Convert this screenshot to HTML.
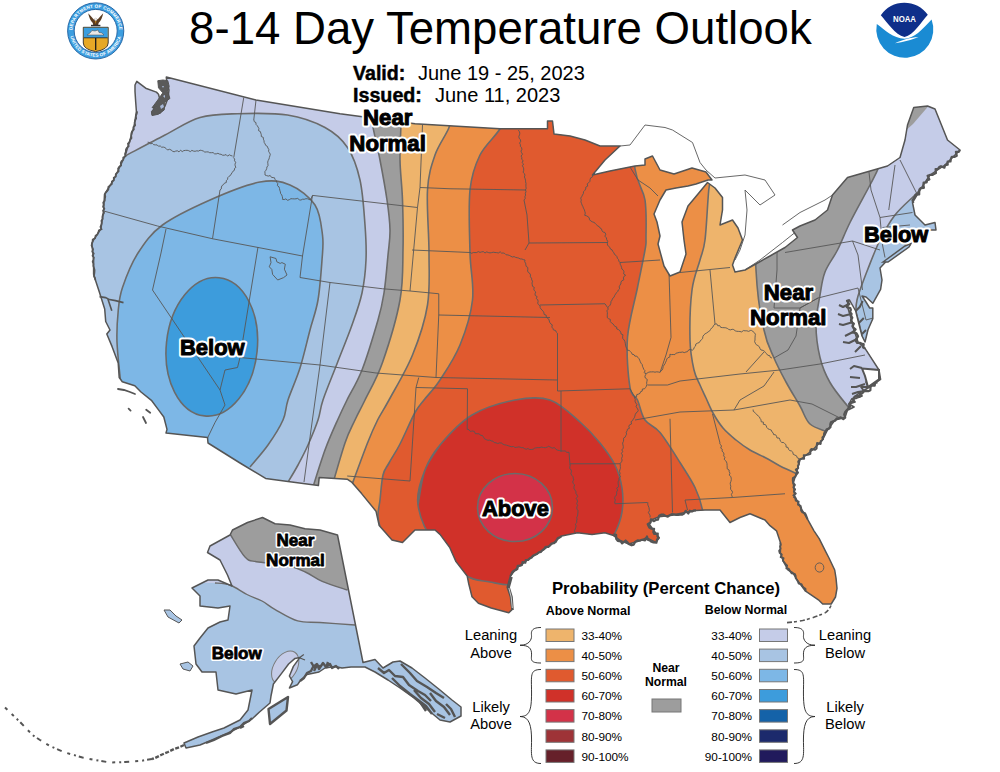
<!DOCTYPE html>
<html><head><meta charset="utf-8"><style>
html,body{margin:0;padding:0;background:#fff;}
svg{display:block;font-family:"Liberation Sans",sans-serif;}
</style></head><body>
<svg width="1000" height="772" viewBox="0 0 1000 772">
<rect width="1000" height="772" fill="#fff"/>
<clipPath id="us"><polygon points="136.8,81.4 135,85 135,91.4 135.7,102 136.4,111.3 134.3,125 130,140 125,156 113.5,180 104.5,194.5 103.6,210.8 100.9,228.9 93.6,239.8 91.8,243.4 93.6,259.7 93.6,274.2 95.4,280 99.5,292.4 104.7,309 105.7,321.5 110,330 106.8,334 112,346.4 118.2,363 119.2,377.5 122.3,381.7 134.8,385.8 141,392 151.4,400.3 157.6,408.6 163.8,417 167,429.4 166,433 207.5,437.5 208,443 240,463 265.6,478.4 288,481.6 318.4,485.6 319.2,477.6 347.2,479.2 352,482.4 361.6,493.6 376,511.2 379.2,525.6 392,540 402.5,542.5 415,530 435,530 440,534.4 449.6,547.2 456,561.6 467.2,576 468.8,584 472,596.8 478.4,603.2 491.2,608 508.8,612.8 512,609.6 510.4,596.8 507.2,587.2 510.4,576 516.8,568 529.6,558.4 542.4,550.4 552,544 561.6,536 577.6,532.8 592,534.4 604.8,532.8 612.8,535.2 620.8,540.8 628.8,544 640,540.8 646.4,537.6 656,542.4 659.2,537.6 654.4,531.2 649.6,524.8 651.2,520 659.2,516.8 672,515.2 680,513.6 696,510.4 705,510 720,510 730,522.5 740,517.5 750,513.75 765,520 770,525.7 776.5,530.8 780.4,542.5 780.4,552.8 783,560.6 788,570 792.8,572.7 797,579.8 805.6,591.2 818.4,599.8 822.7,604 831.2,604 835.5,597 837,588.4 836,578 834.7,570 829,558 825.7,551.6 819.2,538.6 814,530.8 807.5,519.2 799.8,506.2 794.6,495.9 793.3,483 797.2,470 800,460 812.5,450 822.5,440 827.5,430 835,420 845,417.5 847.5,410 851,400 858.8,393.4 869.7,387 880.6,379.4 879,370 871,357.6 865,348.3 858,342 854,330 851,318 847,305 849.5,300 855.7,311 858.8,323.5 862,336 865,342 868,329.7 872.8,318.8 872.8,308 869.7,308 866,302 862,296 866,297 872.8,303.3 880.6,289.3 882,280 880,268 887.5,260 910,245 900,242.5 910,235 922.5,230 936,230 935,222.5 925,225 915,215 912.5,202.5 920,190 930,175 945,165 960,150 947.5,140 935,109 927.5,106 913.75,107.5 907.5,125 905,140 900,157.5 887.5,166 847.5,177.5 832.5,195 827.5,210 815,220 800,226 792.5,230 797.5,237.5 785,247.5 770,256 757.5,263 745,270 735,272 732.5,265 735,258 742.5,240 738,228 732.5,220 720,225 722.5,210 722.5,197.5 715,188 707.5,182.5 698,194 688,206 682,222 684,240 686,254 680,272 670,276 664,266 658,244 660,236 657,222 654,214 660,200 666,190 676,188 688,186 696,184 708,180 712,180 706,172 692,168 674,174 660,170 652.5,156 645,159 645,165 635,166 620,169 610,171 592.5,175 605,160 620,146 600,146 585,140 570,136 554,134 552.5,121 547.5,121 547.5,128.75 500,128.75 415,123.75 340,113.75 256,100 166.3,77.1 167,84 169,90 168,98 165,106 160,113 152,114 154,108 160,100 158.5,94.2 156.4,92.1 145.7,88.2"/></clipPath>

<g clip-path="url(#us)">
<rect x="0" y="0" width="1000" height="772" fill="#c5cce8"/><path d="M125,156 C131.7,152.5 152.5,141.4 165,135 C177.5,128.6 187.9,121.0 200,117.5 C212.1,114.0 222.9,114.2 237.5,113.75 C252.1,113.3 272.9,112.7 287.5,115 C302.1,117.3 315.0,122.1 325,127.5 C335.0,132.9 341.7,138.8 347.5,147.5 C353.3,156.2 357.1,167.1 360,180 C362.9,192.9 364.0,211.7 365,225 C366.0,238.3 366.5,248.7 366,260 C365.5,271.3 364.3,282.2 362,293 C359.7,303.8 356.1,313.4 352,325 C347.9,336.6 342.3,350.0 337.5,362.5 C332.7,375.0 326.2,390.4 323,400 C319.8,409.6 320.5,412.5 318,420 C315.5,427.5 311.3,437.5 308,445 C304.7,452.5 301.3,458.8 298,465 C294.7,471.2 289.7,479.2 288,482 L288,520 L0,520 L0,156Z" fill="#a8c4e3"/><path d="M120.5,381 C119.9,374.5 117.4,353.7 117,342 C116.6,330.3 117.3,320.1 118.2,311 C119.1,301.9 119.2,297.2 122.5,287.5 C125.8,277.8 131.3,263.4 138,253 C144.7,242.6 150.5,233.8 162.5,225 C174.5,216.2 193.8,207.2 210,200 C226.2,192.8 246.7,184.5 260,182 C273.3,179.5 280.8,181.2 290,185 C299.2,188.8 309.6,196.7 315,205 C320.4,213.3 321.3,225.8 322.5,235 C323.7,244.2 322.8,249.2 322,260 C321.2,270.8 320.0,288.3 318,300 C316.0,311.7 313.0,318.7 310,330 C307.0,341.3 303.7,356.3 300,368 C296.3,379.7 290.8,391.3 288,400 C285.2,408.7 286.3,412.5 283,420 C279.7,427.5 273.5,437.2 268,445 C262.5,452.8 253.0,463.3 250,467 L250,520 L0,520 L0,375Z" fill="#7db7e6"/><ellipse cx="211.8" cy="346.8" rx="45.5" ry="69.5" transform="rotate(6 211.8 346.8)" fill="#3d9cdc"/><path d="M372,110 C372.0,112.0 370.7,113.7 372,122 C373.3,130.3 377.5,147.0 380,160 C382.5,173.0 385.3,188.3 387,200 C388.7,211.7 389.8,220.8 390,230 C390.2,239.2 389.0,244.5 388,255 C387.0,265.5 385.7,282.2 384,293 C382.3,303.8 381.7,307.2 378,320 C374.3,332.8 367.2,356.7 362,370 C356.8,383.3 351.1,391.7 347,400 C342.9,408.3 341.3,411.7 337.6,420 C333.9,428.3 329.3,438.3 325,450 C320.7,461.7 314.2,483.3 312,490 L312,772 L1000,772 L1000,110Z" fill="#9d9d9d"/><path d="M401,110 C401.0,112.3 401.2,115.7 401,124 C400.8,132.3 399.8,147.3 400,160 C400.2,172.7 402.0,185.0 402.5,200 C403.0,215.0 403.4,233.3 403,250 C402.6,266.7 403.4,281.2 400,300 C396.6,318.8 388.3,345.8 382.5,362.5 C376.7,379.2 369.6,390.4 365,400 C360.4,409.6 358.3,412.8 355,420 C351.7,427.2 349.0,431.3 345,443 C341.0,454.7 333.3,482.2 331,490 L331,772 L1000,772 L1000,110Z" fill="#eeb46c"/><path d="M452,110 C451.5,112.9 451.8,120.0 449,127.5 C446.2,135.0 438.6,144.6 435,155 C431.4,165.4 428.5,173.7 427.5,190 C426.5,206.3 429.0,233.8 429,253 C429.0,272.2 430.2,288.0 427.5,305 C424.8,322.0 418.9,339.2 412.5,355 C406.1,370.8 394.8,389.2 389,400 C383.2,410.8 381.2,412.8 377.6,420 C374.0,427.2 372.1,431.3 367.5,443 C362.9,454.7 352.9,482.2 350,490 L350,772 L1000,772 L1000,110Z" fill="#ec8f46"/><path d="M505,110 C504.2,113.1 504.2,121.2 500,128.75 C495.8,136.2 485.0,144.8 480,155 C475.0,165.2 471.7,173.7 470,190 C468.3,206.3 469.6,234.7 470,253 C470.4,271.3 474.2,284.7 472.5,300 C470.8,315.3 465.4,331.7 460,345 C454.6,358.3 446.0,370.8 440,380 C434.0,389.2 428.2,394.6 424,400 C419.8,405.4 419.0,405.2 415,412.5 C411.0,419.8 404.3,435.6 400,444 C395.7,452.4 391.8,457.8 389,463 C386.2,468.2 384.5,468.8 383,475 C381.5,481.2 380.8,493.2 380,500 C379.2,506.8 377.8,510.7 378,516 C378.2,521.3 379.8,524.7 381,532 C382.2,539.3 384.3,555.3 385,560 L385,650 L705,650 L705,540 C704.6,535.0 704.2,518.8 702.5,510 C700.8,501.2 698.8,495.4 695,487.5 C691.2,479.6 685.8,471.7 680,462.5 C674.2,453.3 665.8,439.6 660,432.5 C654.2,425.4 648.8,425.4 645,420 C641.2,414.6 640.0,405.4 637.5,400 C635.0,394.6 631.7,397.9 630,387.5 C628.3,377.1 626.2,354.2 627.5,337.5 C628.8,320.8 634.6,302.1 637.5,287.5 C640.4,272.9 643.6,258.3 645,250 C646.4,241.7 646.0,245.8 646,237.5 C646.0,229.2 646.8,211.5 645,200 C643.2,188.5 637.5,185.4 635,168.75 C632.5,152.1 630.8,111.5 630,100 Z" fill="#e05a2f"/><path d="M715,100 C714.5,111.7 713.0,155.0 712,170 C711.0,185.0 709.9,178.3 708.75,190 C707.6,201.7 706.5,228.3 705,240 C703.5,251.7 702.2,251.7 700,260 C697.8,268.3 693.7,276.7 692,290 C690.3,303.3 689.7,326.7 690,340 C690.3,353.3 692.3,362.5 694,370 C695.7,377.5 698.0,380.3 700,385 C702.0,389.7 703.8,393.3 706,398 C708.2,402.7 710.2,408.0 713,413 C715.8,418.0 719.2,423.5 723,428 C726.8,432.5 731.5,436.3 736,440 C740.5,443.7 745.0,447.0 750,450 C755.0,453.0 761.0,455.3 766,458 C771.0,460.7 775.2,463.5 780,466 C784.8,468.5 786.7,469.0 795,473 C803.3,477.0 824.2,487.2 830,490 L1000,400 L1000,100Z" fill="#eeb46c"/><path d="M752,100 C752.7,128.3 754.0,231.7 756,270 C758.0,308.3 761.0,315.3 764,330 C767.0,344.7 770.3,349.3 774,358 C777.7,366.7 781.7,374.0 786,382 C790.3,390.0 796.0,399.0 800,406 C804.0,413.0 805.3,419.7 810,424 C814.7,428.3 821.3,429.3 828,432 C834.7,434.7 846.3,438.7 850,440 L1000,440 L1000,100Z" fill="#9d9d9d"/><path d="M895,100 C892.5,110.0 882.9,148.3 880,160 C877.1,171.7 879.2,165.8 877.5,170 C875.8,174.2 874.6,176.2 870,185 C865.4,193.8 855.4,211.7 850,222.5 C844.6,233.3 841.7,241.8 837.5,250 C833.3,258.2 827.9,264.5 825,272 C822.1,279.5 821.5,286.2 820,295 C818.5,303.8 816.0,314.6 816,325 C816.0,335.4 817.7,347.9 820,357.5 C822.3,367.1 825.4,374.4 830,382.5 C834.6,390.6 842.5,399.8 847.5,406 C852.5,412.2 857.9,417.7 860,420 L1000,420 L1000,100Z" fill="#c5cce8"/><path d="M920,190 C919.2,190.8 919.2,190.8 915,195 C910.8,199.2 900.8,207.5 895,215 C889.2,222.5 884.6,230.8 880,240 C875.4,249.2 870.8,261.7 867.5,270 C864.2,278.3 861.8,285.0 860,290 C858.2,295.0 857.7,296.5 857,300 C856.3,303.5 855.7,307.2 856,311 C856.3,314.8 858.0,318.8 859,323 C860.0,327.2 861.0,332.3 862,336 C863.0,339.7 863.3,341.7 865,345 C866.7,348.3 868.7,353.5 872,356 C875.3,358.5 882.8,359.3 885,360 L1000,360 L1000,190Z" fill="#a8c4e3"/><polygon points="904,132 912,104 932,102 913,124" fill="#9d9d9d" /><path d="M418,505 C419.2,499.2 421.3,480.0 425,470 C428.7,460.0 432.2,454.2 440,445 C447.8,435.8 459.5,422.5 472,415 C484.5,407.5 502.0,402.5 515,400 C528.0,397.5 539.2,396.3 550,400 C560.8,403.7 571.7,414.8 580,422 C588.3,429.2 594.2,435.8 600,443 C605.8,450.2 611.3,457.5 615,465 C618.7,472.5 620.8,480.2 622,488 C623.2,495.8 623.2,504.5 622,512 C620.8,519.5 618.7,525.3 615,533 C611.3,540.7 609.2,551.0 600,558 C590.8,565.0 573.3,570.5 560,575 C546.7,579.5 531.7,583.8 520,585 C508.3,586.2 499.2,583.7 490,582 C480.8,580.3 474.2,581.2 465,575 C455.8,568.8 442.8,556.7 435,545 C427.2,533.3 419.7,517.5 418,505 C416.3,492.5 421.3,480.0 425,470 C428.7,460.0 437.5,449.2 440,445" fill="#d03129"/><ellipse cx="515" cy="507.5" rx="37.5" ry="34" fill="#d33248"/>
<path d="M125,156 C131.7,152.5 152.5,141.4 165,135 C177.5,128.6 187.9,121.0 200,117.5 C212.1,114.0 222.9,114.2 237.5,113.75 C252.1,113.3 272.9,112.7 287.5,115 C302.1,117.3 315.0,122.1 325,127.5 C335.0,132.9 341.7,138.8 347.5,147.5 C353.3,156.2 357.1,167.1 360,180 C362.9,192.9 364.0,211.7 365,225 C366.0,238.3 366.5,248.7 366,260 C365.5,271.3 364.3,282.2 362,293 C359.7,303.8 356.1,313.4 352,325 C347.9,336.6 342.3,350.0 337.5,362.5 C332.7,375.0 326.2,390.4 323,400 C319.8,409.6 320.5,412.5 318,420 C315.5,427.5 311.3,437.5 308,445 C304.7,452.5 301.3,458.8 298,465 C294.7,471.2 289.7,479.2 288,482" stroke="#6b6b6b" stroke-width="1.6" fill="none"/><path d="M120.5,381 C119.9,374.5 117.4,353.7 117,342 C116.6,330.3 117.3,320.1 118.2,311 C119.1,301.9 119.2,297.2 122.5,287.5 C125.8,277.8 131.3,263.4 138,253 C144.7,242.6 150.5,233.8 162.5,225 C174.5,216.2 193.8,207.2 210,200 C226.2,192.8 246.7,184.5 260,182 C273.3,179.5 280.8,181.2 290,185 C299.2,188.8 309.6,196.7 315,205 C320.4,213.3 321.3,225.8 322.5,235 C323.7,244.2 322.8,249.2 322,260 C321.2,270.8 320.0,288.3 318,300 C316.0,311.7 313.0,318.7 310,330 C307.0,341.3 303.7,356.3 300,368 C296.3,379.7 290.8,391.3 288,400 C285.2,408.7 286.3,412.5 283,420 C279.7,427.5 273.5,437.2 268,445 C262.5,452.8 253.0,463.3 250,467" stroke="#6b6b6b" stroke-width="1.6" fill="none"/><path d="M372,110 C372.0,112.0 370.7,113.7 372,122 C373.3,130.3 377.5,147.0 380,160 C382.5,173.0 385.3,188.3 387,200 C388.7,211.7 389.8,220.8 390,230 C390.2,239.2 389.0,244.5 388,255 C387.0,265.5 385.7,282.2 384,293 C382.3,303.8 381.7,307.2 378,320 C374.3,332.8 367.2,356.7 362,370 C356.8,383.3 351.1,391.7 347,400 C342.9,408.3 341.3,411.7 337.6,420 C333.9,428.3 329.3,438.3 325,450 C320.7,461.7 314.2,483.3 312,490" stroke="#6b6b6b" stroke-width="1.6" fill="none"/><path d="M401,110 C401.0,112.3 401.2,115.7 401,124 C400.8,132.3 399.8,147.3 400,160 C400.2,172.7 402.0,185.0 402.5,200 C403.0,215.0 403.4,233.3 403,250 C402.6,266.7 403.4,281.2 400,300 C396.6,318.8 388.3,345.8 382.5,362.5 C376.7,379.2 369.6,390.4 365,400 C360.4,409.6 358.3,412.8 355,420 C351.7,427.2 349.0,431.3 345,443 C341.0,454.7 333.3,482.2 331,490" stroke="#6b6b6b" stroke-width="1.6" fill="none"/><path d="M452,110 C451.5,112.9 451.8,120.0 449,127.5 C446.2,135.0 438.6,144.6 435,155 C431.4,165.4 428.5,173.7 427.5,190 C426.5,206.3 429.0,233.8 429,253 C429.0,272.2 430.2,288.0 427.5,305 C424.8,322.0 418.9,339.2 412.5,355 C406.1,370.8 394.8,389.2 389,400 C383.2,410.8 381.2,412.8 377.6,420 C374.0,427.2 372.1,431.3 367.5,443 C362.9,454.7 352.9,482.2 350,490" stroke="#6b6b6b" stroke-width="1.6" fill="none"/><path d="M505,110 C504.2,113.1 504.2,121.2 500,128.75 C495.8,136.2 485.0,144.8 480,155 C475.0,165.2 471.7,173.7 470,190 C468.3,206.3 469.6,234.7 470,253 C470.4,271.3 474.2,284.7 472.5,300 C470.8,315.3 465.4,331.7 460,345 C454.6,358.3 446.0,370.8 440,380 C434.0,389.2 428.2,394.6 424,400 C419.8,405.4 419.0,405.2 415,412.5 C411.0,419.8 404.3,435.6 400,444 C395.7,452.4 391.8,457.8 389,463 C386.2,468.2 384.5,468.8 383,475 C381.5,481.2 380.8,493.2 380,500 C379.2,506.8 377.8,510.7 378,516 C378.2,521.3 379.8,524.7 381,532 C382.2,539.3 384.3,555.3 385,560" stroke="#6b6b6b" stroke-width="1.6" fill="none"/><path d="M630,100 C630.8,111.5 632.5,152.1 635,168.75 C637.5,185.4 643.2,188.5 645,200 C646.8,211.5 646.0,229.2 646,237.5 C646.0,245.8 646.4,241.7 645,250 C643.6,258.3 640.4,272.9 637.5,287.5 C634.6,302.1 628.8,320.8 627.5,337.5 C626.2,354.2 628.3,377.1 630,387.5 C631.7,397.9 635.0,394.6 637.5,400 C640.0,405.4 641.2,414.6 645,420 C648.8,425.4 654.2,425.4 660,432.5 C665.8,439.6 674.2,453.3 680,462.5 C685.8,471.7 691.2,479.6 695,487.5 C698.8,495.4 700.8,501.2 702.5,510 C704.2,518.8 704.6,535.0 705,540" stroke="#6b6b6b" stroke-width="1.6" fill="none"/><path d="M715,100 C714.5,111.7 713.0,155.0 712,170 C711.0,185.0 709.9,178.3 708.75,190 C707.6,201.7 706.5,228.3 705,240 C703.5,251.7 702.2,251.7 700,260 C697.8,268.3 693.7,276.7 692,290 C690.3,303.3 689.7,326.7 690,340 C690.3,353.3 692.3,362.5 694,370 C695.7,377.5 698.0,380.3 700,385 C702.0,389.7 703.8,393.3 706,398 C708.2,402.7 710.2,408.0 713,413 C715.8,418.0 719.2,423.5 723,428 C726.8,432.5 731.5,436.3 736,440 C740.5,443.7 745.0,447.0 750,450 C755.0,453.0 761.0,455.3 766,458 C771.0,460.7 775.2,463.5 780,466 C784.8,468.5 786.7,469.0 795,473 C803.3,477.0 824.2,487.2 830,490" stroke="#6b6b6b" stroke-width="1.6" fill="none"/><path d="M752,100 C752.7,128.3 754.0,231.7 756,270 C758.0,308.3 761.0,315.3 764,330 C767.0,344.7 770.3,349.3 774,358 C777.7,366.7 781.7,374.0 786,382 C790.3,390.0 796.0,399.0 800,406 C804.0,413.0 805.3,419.7 810,424 C814.7,428.3 821.3,429.3 828,432 C834.7,434.7 846.3,438.7 850,440" stroke="#6b6b6b" stroke-width="1.6" fill="none"/><path d="M895,100 C892.5,110.0 882.9,148.3 880,160 C877.1,171.7 879.2,165.8 877.5,170 C875.8,174.2 874.6,176.2 870,185 C865.4,193.8 855.4,211.7 850,222.5 C844.6,233.3 841.7,241.8 837.5,250 C833.3,258.2 827.9,264.5 825,272 C822.1,279.5 821.5,286.2 820,295 C818.5,303.8 816.0,314.6 816,325 C816.0,335.4 817.7,347.9 820,357.5 C822.3,367.1 825.4,374.4 830,382.5 C834.6,390.6 842.5,399.8 847.5,406 C852.5,412.2 857.9,417.7 860,420" stroke="#6b6b6b" stroke-width="1.6" fill="none"/><path d="M920,190 C919.2,190.8 919.2,190.8 915,195 C910.8,199.2 900.8,207.5 895,215 C889.2,222.5 884.6,230.8 880,240 C875.4,249.2 870.8,261.7 867.5,270 C864.2,278.3 861.8,285.0 860,290 C858.2,295.0 857.7,296.5 857,300 C856.3,303.5 855.7,307.2 856,311 C856.3,314.8 858.0,318.8 859,323 C860.0,327.2 861.0,332.3 862,336 C863.0,339.7 863.3,341.7 865,345 C866.7,348.3 868.7,353.5 872,356 C875.3,358.5 882.8,359.3 885,360" stroke="#6b6b6b" stroke-width="1.6" fill="none"/><path d="M418,505 C419.2,499.2 421.3,480.0 425,470 C428.7,460.0 432.2,454.2 440,445 C447.8,435.8 459.5,422.5 472,415 C484.5,407.5 502.0,402.5 515,400 C528.0,397.5 539.2,396.3 550,400 C560.8,403.7 571.7,414.8 580,422 C588.3,429.2 594.2,435.8 600,443 C605.8,450.2 611.3,457.5 615,465 C618.7,472.5 620.8,480.2 622,488 C623.2,495.8 623.2,504.5 622,512 C620.8,519.5 618.7,525.3 615,533 C611.3,540.7 609.2,551.0 600,558 C590.8,565.0 573.3,570.5 560,575 C546.7,579.5 531.7,583.8 520,585 C508.3,586.2 499.2,583.7 490,582 C480.8,580.3 474.2,581.2 465,575 C455.8,568.8 442.8,556.7 435,545 C427.2,533.3 419.7,517.5 418,505 C416.3,492.5 421.3,480.0 425,470 C428.7,460.0 437.5,449.2 440,445" stroke="#6b6b6b" stroke-width="1.6" fill="none"/><ellipse cx="211.8" cy="346.8" rx="45.5" ry="69.5" transform="rotate(6 211.8 346.8)" stroke="#6b6b6b" stroke-width="1.6" fill="none"/><ellipse cx="515" cy="507.5" rx="37.5" ry="34" stroke="#6b6b6b" stroke-width="1.6" fill="none"/><polyline points="904,132 912,104" stroke="#6b6b6b" stroke-width="1.6" fill="none"/>
<path d="M147.6,142.2 L149.3,142.4 L150.5,143.8 L152.4,143.4 L153.7,144.7 L155.4,144.9 L157.1,144.9 L158.4,146.2 L160.3,146.0 L161.6,147.2 L163.4,147.1 L164.9,147.6 L166.3,148.7 L167.6,150.0 L169.6,149.3 L171.1,150.0 L172.5,151.2 L174.1,151.8 L175.7,151.1 L177.4,150.8 L179.0,151.9 L180.6,150.2 L182.2,151.6 L183.8,150.6 L185.4,150.4 L187.1,150.3 L188.7,150.7 L190.3,151.6 L191.9,150.4 L193.5,151.1 L195.1,151.3 L196.8,150.8 L198.4,151.1 L200.1,150.2 L201.7,150.5 L203.3,151.0 L204.8,152.1 L206.5,151.9 L208.2,151.9 L209.7,152.7 L211.4,152.7 L213.1,152.6 L214.5,153.8 L216.2,153.9 L217.9,153.3 L219.5,154.1 L221.1,154.3 L222.6,155.2 L224.3,155.2 L226.1,154.6 L227.5,156.1 L229.4,154.8 L230.9,155.6 L232.5,156.0" fill="none" stroke="#575757" stroke-width="0.9" stroke-linejoin="round"/><polyline points="243.75,97.5 233.75,157.5" fill="none" stroke="#575757" stroke-width="0.9" stroke-linejoin="round" /><path d="M233.3,157.6 L234.7,159.0 L234.5,160.8 L235.7,162.3 L235.0,164.2 L235.2,165.9 L235.9,167.4 L234.5,168.4 L234.4,170.3 L232.9,171.3 L232.1,172.7 L231.2,174.0 L230.4,175.5 L228.9,176.4 L227.8,177.6 L227.6,179.4 L226.3,180.6 L226.3,182.5 L224.4,183.2 L223.5,184.6 L222.1,185.5 L221.4,187.0 L221.3,188.9 L220.0,190.0" fill="none" stroke="#575757" stroke-width="0.9" stroke-linejoin="round"/><polyline points="220,190 212.5,238.75" fill="none" stroke="#575757" stroke-width="0.9" stroke-linejoin="round" /><polyline points="103.75,211 157.5,226 212.5,238.75 302.5,256" fill="none" stroke="#575757" stroke-width="0.9" stroke-linejoin="round" /><polyline points="166,229 161,253 152.5,290 220,390 225,405 215,422.5 207.5,438" fill="none" stroke="#575757" stroke-width="0.9" stroke-linejoin="round" /><polyline points="258,247 240,357.5 237.5,367.5 225,370 220,390" fill="none" stroke="#575757" stroke-width="0.9" stroke-linejoin="round" /><polyline points="240,357.5 320,365" fill="none" stroke="#575757" stroke-width="0.9" stroke-linejoin="round" /><polyline points="256,100 253.75,120" fill="none" stroke="#575757" stroke-width="0.9" stroke-linejoin="round" /><path d="M253.9,119.9 L254.2,121.6 L256.0,122.6 L256.0,124.4 L257.2,125.6 L258.1,127.1 L258.9,128.5 L258.5,130.6 L260.3,131.5 L260.8,133.1 L261.3,134.7 L261.3,136.5 L263.3,137.4 L263.4,139.2 L264.0,140.7 L264.2,142.5 L265.1,143.9 L265.7,145.4 L267.4,146.4 L267.9,148.0 L268.8,149.4 L268.6,151.3 L269.2,152.3 L270.3,154.2 L269.9,155.8 L269.4,157.4 L269.0,159.0 L268.2,160.5 L267.7,162.1 L267.9,163.8 L268.0,165.6 L266.9,167.0 L266.7,168.6 L266.0,170.2 L264.9,171.6 L265.0,173.3 L265.0,175.0 L266.6,175.6 L268.3,176.1 L270.2,175.5 L271.5,177.4 L273.2,177.6 L274.4,177.7 L275.0,179.3 L276.3,180.7 L276.8,182.3 L277.8,183.7 L277.4,185.6 L279.0,186.9 L279.5,188.5 L279.8,190.2 L280.4,191.8 L280.6,193.5 L281.7,194.9 L282.3,196.5 L282.6,198.2 L282.4,199.3 L284.2,199.6 L285.8,198.9 L287.6,200.3 L289.3,199.7 L290.9,198.7 L292.6,198.8 L294.3,198.9 L296.0,198.8 L297.7,198.4 L299.3,199.8 L300.9,200.1 L302.6,199.2 L304.2,199.3 L305.9,198.7 L307.6,198.8 L310.5,200.0" fill="none" stroke="#575757" stroke-width="0.9" stroke-linejoin="round"/><polyline points="310.5,200 312.5,195.4 302.5,256 300,277.5 330,282.5" fill="none" stroke="#575757" stroke-width="0.9" stroke-linejoin="round" /><polyline points="312.5,195.4 417.5,207.5" fill="none" stroke="#575757" stroke-width="0.9" stroke-linejoin="round" /><polyline points="422.5,125 420,187.5 417.5,207.5 410,291" fill="none" stroke="#575757" stroke-width="0.9" stroke-linejoin="round" /><polyline points="420,187.5 450,188.75 526,190" fill="none" stroke="#575757" stroke-width="0.9" stroke-linejoin="round" /><polyline points="330,282.5 320,365 311,430 304,482" fill="none" stroke="#575757" stroke-width="0.9" stroke-linejoin="round" /><polyline points="330,282.5 382.5,288.75 410,291 438.75,293.75 438.75,315 436,377.5" fill="none" stroke="#575757" stroke-width="0.9" stroke-linejoin="round" /><polyline points="438.75,315 550,317.5" fill="none" stroke="#575757" stroke-width="0.9" stroke-linejoin="round" /><polyline points="320,365 376,373 436,377.5 557.5,380" fill="none" stroke="#575757" stroke-width="0.9" stroke-linejoin="round" /><polyline points="418.75,377.5 416,387.5 467.5,388.75 467.2,429.5" fill="none" stroke="#575757" stroke-width="0.9" stroke-linejoin="round" /><path d="M467.3,429.2 L469.0,429.8 L470.3,431.4 L472.5,431.0 L474.3,431.4 L475.3,433.7 L477.3,433.7 L479.3,433.8 L480.5,435.3 L482.5,435.5 L483.5,437.2 L484.5,438.8 L486.2,439.6 L487.9,440.3 L489.7,440.1 L491.3,440.9 L493.0,441.1 L494.2,442.6 L496.0,442.8 L497.7,443.5 L499.6,442.9 L501.5,443.0 L503.1,444.3 L504.7,444.8 L506.5,445.2 L508.2,445.7 L509.8,446.3 L511.5,446.7 L513.5,446.5 L515.0,447.5 L516.6,447.4 L518.3,446.9 L519.9,447.1 L521.5,447.6 L523.1,447.7 L524.6,448.6 L526.2,449.3 L527.9,448.5 L529.6,449.5 L531.3,449.5 L533.1,449.3 L534.7,448.1 L536.5,447.7 L538.2,447.6 L539.9,447.5 L541.6,447.1 L543.5,447.5 L545.4,447.7 L547.1,447.2 L548.7,446.3 L550.4,447.2 L552.2,448.2 L554.4,447.6 L555.9,449.3 L557.5,450.2 L559.4,450.5 L561.1,450.9 L563.0,451.0 L565.1,450.9 L566.9,452.4 L569.0,452.3" fill="none" stroke="#575757" stroke-width="0.9" stroke-linejoin="round"/><polyline points="569,452.3 570,465" fill="none" stroke="#575757" stroke-width="0.9" stroke-linejoin="round" /><path d="M570.3,464.9 L569.8,466.8 L569.8,468.5 L571.2,470.0 L571.5,471.6 L570.9,473.5 L571.6,475.1 L572.9,476.6 L573.3,478.2 L573.6,479.9 L572.7,481.8 L573.2,483.5 L574.7,484.9 L573.9,486.8 L574.0,488.5 L575.0,490.1 L575.9,491.6 L575.9,493.4 L577.0,494.9 L577.6,496.5 L576.3,498.5 L577.2,500.0 L577.5,501.8 L576.7,503.6 L577.6,505.4 L576.8,507.1 L576.9,508.9 L578.0,510.7 L577.9,512.6 L577.7,514.2 L577.5,515.9 L576.7,517.5 L577.1,519.2 L576.6,520.9 L576.9,522.6 L575.3,524.1 L576.1,525.9 L575.7,527.5 L575.3,529.1 L574.5,530.7 L575.0,532.5" fill="none" stroke="#575757" stroke-width="0.9" stroke-linejoin="round"/><polyline points="416,387.5 410,481" fill="none" stroke="#575757" stroke-width="0.9" stroke-linejoin="round" /><polyline points="347.2,476 410,481" fill="none" stroke="#575757" stroke-width="0.9" stroke-linejoin="round" /><polyline points="412,250 470,252.5" fill="none" stroke="#575757" stroke-width="0.9" stroke-linejoin="round" /><path d="M470.0,252.4 L471.7,253.3 L473.3,252.5 L475.0,252.6 L476.7,252.5 L478.3,251.6 L480.0,252.4 L481.7,251.9 L483.3,251.6 L485.0,253.0 L486.7,251.9 L488.3,252.5 L490.0,252.9 L491.7,252.6 L493.3,252.2 L495.0,252.5 L496.7,252.6 L498.3,253.0 L500.2,251.8 L501.5,253.1 L503.3,253.0 L504.8,253.5 L506.1,254.8 L507.8,254.9 L509.3,255.4 L510.8,256.2 L512.3,257.0 L514.1,256.6 L515.6,257.4 L517.2,257.7 L518.7,258.1 L520.2,258.9 L521.9,259.0 L523.4,259.6 L525.0,260.0 L524.7,261.8 L525.6,263.2 L525.8,264.8 L526.2,266.4 L527.8,267.5 L527.8,269.2 L527.6,271.0 L528.3,272.4 L530.0,273.6 L530.5,275.1 L530.4,276.8 L531.5,278.2 L531.7,279.8 L532.5,281.2 L532.0,283.1 L532.3,284.7 L532.5,286.3 L534.3,287.4 L533.8,289.2 L534.4,290.7 L535.8,292.0 L535.0,293.9 L535.3,295.5 L537.1,296.6 L536.3,298.6 L537.8,299.8 L538.1,301.4 L537.7,303.2 L538.5,304.6 L540.1,305.8 L540.1,307.4 L540.9,308.9 L542.1,310.1 L543.2,311.3 L543.9,312.8 L544.2,314.5 L546.2,315.2 L546.3,317.1 L547.4,318.3 L548.9,319.3 L549.3,321.0 L549.8,322.6 L550.8,323.9 L552.3,324.9 L551.8,327.1 L552.9,328.3 L553.4,329.9 L555.6,330.5 L556.2,332.0 L557.4,333.2 L557.5,335.0" fill="none" stroke="#575757" stroke-width="0.9" stroke-linejoin="round"/><polyline points="557.5,335 557.5,391" fill="none" stroke="#575757" stroke-width="0.9" stroke-linejoin="round" /><path d="M518.3,130.1 L519.4,131.6 L519.8,133.2 L519.5,134.8 L518.8,136.6 L519.2,138.2 L520.4,139.7 L520.7,141.3 L519.6,143.1 L520.4,144.6 L520.4,146.3 L521.6,147.7 L521.9,149.4 L521.0,151.1 L521.6,152.7 L522.5,154.2 L521.1,156.0 L521.8,157.6 L521.7,159.3 L523.2,160.7 L522.0,162.5 L523.6,164.0 L522.4,165.8 L523.3,167.3 L523.7,168.9 L523.6,170.6 L523.1,172.3 L524.5,173.7 L524.9,175.3 L524.4,177.0 L525.1,178.6 L525.5,180.2 L525.6,181.8 L526.0,183.4 L525.9,185.1 L525.9,186.7 L526.2,188.3 L525.5,189.9 L526.0,191.7 L525.3,193.3 L525.6,195.1 L524.9,196.7 L525.2,198.5 L524.0,200.0" fill="none" stroke="#575757" stroke-width="0.9" stroke-linejoin="round"/><polyline points="524,200 527,215 529,243 525,250" fill="none" stroke="#575757" stroke-width="0.9" stroke-linejoin="round" /><polyline points="529,243 607.5,242.5" fill="none" stroke="#575757" stroke-width="0.9" stroke-linejoin="round" /><path d="M592.9,175.2 L592.5,176.9 L590.6,177.9 L590.1,179.6 L589.9,181.4 L588.7,182.7 L587.2,183.9 L587.7,186.1 L585.8,187.1 L585.7,188.9 L584.8,190.4 L583.5,191.7 L583.4,193.5 L582.5,195.0 L581.7,196.6 L580.7,198.1 L581.3,199.9 L580.9,201.8 L581.5,203.4 L582.1,205.1 L582.9,206.6 L583.5,208.3 L584.4,209.8 L584.8,211.5 L585.3,213.1 L584.7,215.3 L586.5,215.8 L587.9,216.7 L589.2,217.7 L589.6,219.8 L590.8,221.0 L592.3,221.8 L594.0,222.4 L595.3,223.4 L596.5,224.6 L597.5,225.9 L599.2,226.6 L600.1,228.1 L601.5,228.9 L602.0,230.9 L603.2,232.0 L604.9,232.5 L605.8,234.2 L604.9,236.2 L606.4,237.8 L606.7,239.6 L607.7,241.3 L607.4,243.2 L607.5,245.0 L608.5,246.3 L609.9,247.4 L610.4,249.0 L612.1,249.9 L612.7,251.5 L613.9,252.6 L614.4,254.3 L615.9,255.3 L616.9,256.6 L617.4,258.3 L618.5,259.5 L618.9,261.2 L620.0,262.5 L620.2,264.2 L621.0,265.7 L621.5,267.3 L621.9,269.0 L623.3,270.2 L624.0,271.8 L623.6,273.8 L625.6,275.3 L624.0,276.3 L623.4,277.9 L623.8,279.8 L621.8,280.8 L621.0,282.2 L620.8,283.9 L619.9,285.3 L619.2,286.8 L619.6,288.8 L618.3,290.0 L617.7,291.5 L616.5,292.7 L615.6,294.1 L614.6,295.6 L614.0,297.3 L612.6,298.4 L612.0,300.1 L611.0,301.5 L610.8,303.4 L610.1,305.1 L609.0,306.4 L607.8,307.5 L608.2,309.2 L606.9,310.8 L607.4,312.5 L607.3,314.2 L607.3,315.8 L607.3,317.7 L608.6,318.7 L610.3,319.4 L610.3,321.6 L611.4,322.8 L612.9,323.8 L613.9,325.0 L614.8,326.4 L616.7,327.0 L616.8,329.0 L618.6,329.7 L619.9,330.8 L620.7,332.2 L621.1,334.0 L623.0,334.8 L622.6,336.8 L622.8,338.6 L624.2,340.0 L624.9,341.6 L625.3,343.3 L625.5,345.1 L625.9,346.8 L626.7,348.4 L627.3,350.2 L629.2,350.4 L630.4,351.5 L631.5,352.7 L632.2,354.3 L634.0,354.7 L634.9,356.1 L636.8,356.3 L638.0,357.4 L639.0,358.7 L639.7,360.1 L640.3,361.7 L641.0,363.2 L642.2,364.5 L642.5,366.3 L643.2,367.8 L643.8,369.4 L645.0,370.7 L644.3,372.6 L645.9,374.2 L644.9,376.2 L645.3,378.0 L647.3,379.5 L646.9,381.4 L646.6,383.3 L646.9,384.4 L646.4,386.2 L645.5,387.6 L644.5,388.8 L642.4,389.0 L642.2,391.1 L640.6,391.7 L640.0,393.4 L638.4,394.1 L636.7,394.7 L636.6,396.8 L634.4,397.6 L635.3,399.3 L635.0,401.2 L635.7,402.9 L636.9,404.5 L636.1,406.6 L637.2,408.2 L638.3,410.4 L637.5,411.9 L636.0,413.0 L635.3,414.5 L634.8,416.2 L634.3,417.8 L633.3,419.1 L632.5,420.6 L631.0,421.7 L631.6,423.9 L629.6,424.8 L628.8,426.3 L629.4,428.3 L627.4,429.2 L627.1,430.9 L626.2,432.2 L626.6,434.1 L625.8,435.6 L625.2,437.1 L623.5,438.2 L623.6,439.9 L623.4,441.6 L622.6,443.0 L622.9,444.8 L623.3,446.5 L623.2,448.2 L621.9,449.9 L622.7,451.7 L621.4,453.3 L622.4,455.0 L622.3,456.7 L621.6,458.3 L622.1,460.1 L621.6,461.7 L620.3,463.3 L620.3,464.9 L620.3,466.6 L620.4,468.3 L619.8,469.9 L619.5,471.6 L620.1,473.3 L619.6,474.9 L620.5,476.8 L618.9,478.3 L619.1,480.0 L618.2,481.6 L618.1,483.3 L618.4,485.1 L618.5,486.8 L616.6,488.2 L617.7,490.1 L616.7,491.7 L616.6,493.4 L616.4,495.1 L615.2,496.6 L614.5,498.2 L615.4,500.0 L614.7,501.9 L615.0,503.8" fill="none" stroke="#575757" stroke-width="0.9" stroke-linejoin="round"/><polyline points="615,503.75 647.5,502.5" fill="none" stroke="#575757" stroke-width="0.9" stroke-linejoin="round" /><path d="M647.9,502.4 L647.7,504.2 L648.2,505.8 L648.9,507.4 L649.2,509.1 L649.4,510.7 L648.4,512.6 L649.4,514.2 L650.2,515.8 L650.0,517.5" fill="none" stroke="#575757" stroke-width="0.9" stroke-linejoin="round"/><polyline points="540,305 605,303.75 607.5,307.5" fill="none" stroke="#575757" stroke-width="0.9" stroke-linejoin="round" /><polyline points="557.5,391 630,388.75 635,397.5" fill="none" stroke="#575757" stroke-width="0.9" stroke-linejoin="round" /><polyline points="561,391 561,452" fill="none" stroke="#575757" stroke-width="0.9" stroke-linejoin="round" /><polyline points="570,463.75 620,463.75" fill="none" stroke="#575757" stroke-width="0.9" stroke-linejoin="round" /><polyline points="620,262.5 660,260" fill="none" stroke="#575757" stroke-width="0.9" stroke-linejoin="round" /><polyline points="630,167 638,180 650,188 658,196" fill="none" stroke="#575757" stroke-width="0.9" stroke-linejoin="round" /><polyline points="669,272.5 671,337.5 666,355 660,372.5" fill="none" stroke="#575757" stroke-width="0.9" stroke-linejoin="round" /><path d="M645.0,373.2 L646.7,373.4 L648.3,372.4 L650.0,371.9 L651.7,371.9 L653.3,371.8 L655.0,372.2 L656.7,371.8 L658.3,372.0 L659.6,372.3 L660.9,371.1 L662.3,369.9 L662.9,368.3 L663.2,366.6 L664.0,365.1 L665.0,363.8 L665.6,362.2 L666.4,360.7 L666.8,359.0 L668.0,357.7 L669.9,356.9 L669.9,354.3 L671.6,354.6 L673.2,354.5 L674.9,354.6 L676.2,353.1 L677.8,352.8 L679.3,352.4 L681.0,352.3 L682.5,352.0 L684.3,352.6 L685.9,352.0 L687.4,351.7 L688.7,349.9 L690.2,349.5 L692.3,350.2 L693.7,349.1 L694.2,347.3 L695.5,346.1 L695.8,344.1 L697.4,343.2 L699.3,342.5 L700.2,341.0 L701.4,339.7 L702.6,338.6 L702.9,336.4 L703.8,335.0 L705.1,333.8 L706.8,332.9 L708.1,331.9 L709.7,330.9 L710.6,329.4 L711.6,328.0 L713.0,326.9 L713.8,325.2 L715.0,324.1 L716.8,323.9 L717.8,325.8 L719.7,325.6 L720.7,327.4 L722.4,327.6 L724.1,327.7 L725.8,327.8 L727.3,328.4 L728.7,329.4 L730.3,329.9 L732.2,329.3 L733.8,329.6 L735.2,330.8 L736.8,331.3 L738.4,331.4 L739.9,331.5 L741.7,331.9 L743.3,330.6 L745.1,330.8 L746.8,330.8 L748.7,331.4 L750.3,330.5 L751.4,330.4 L753.0,331.5 L754.4,332.7 L755.4,334.2 L755.2,335.7 L755.0,337.9 L755.0,340.1 L754.6,341.4 L755.3,343.2 L756.3,344.7 L757.9,345.6 L759.3,346.7 L760.0,348.5 L761.0,350.0 L763.1,350.4 L764.5,351.3 L765.5,352.8 L766.8,353.9 L767.8,355.3 L769.7,355.6 L770.3,357.4 L772.0,358.0" fill="none" stroke="#575757" stroke-width="0.9" stroke-linejoin="round"/><polyline points="710,270 715,324" fill="none" stroke="#575757" stroke-width="0.9" stroke-linejoin="round" /><polyline points="680,272.5 730,267.5" fill="none" stroke="#575757" stroke-width="0.9" stroke-linejoin="round" /><polyline points="777,250 777,270 774,308 800,308 818,298 858,288" fill="none" stroke="#575757" stroke-width="0.9" stroke-linejoin="round" /><polyline points="818,298 800,308 796,336 788,350 774,358" fill="none" stroke="#575757" stroke-width="0.9" stroke-linejoin="round" /><polyline points="764,352 746,372" fill="none" stroke="#575757" stroke-width="0.9" stroke-linejoin="round" /><polyline points="647.5,385 667.5,385 680,381 740,374 780,370 820,364 865,355" fill="none" stroke="#575757" stroke-width="0.9" stroke-linejoin="round" /><polyline points="774,372 764,386 740,400 734,410" fill="none" stroke="#575757" stroke-width="0.9" stroke-linejoin="round" /><polyline points="635,420 680,412 734,410" fill="none" stroke="#575757" stroke-width="0.9" stroke-linejoin="round" /><polyline points="734,410 790,400 812,404 840,418" fill="none" stroke="#575757" stroke-width="0.9" stroke-linejoin="round" /><polyline points="670,418.75 672.5,512.5" fill="none" stroke="#575757" stroke-width="0.9" stroke-linejoin="round" /><polyline points="712.5,414 720,443" fill="none" stroke="#575757" stroke-width="0.9" stroke-linejoin="round" /><path d="M719.6,443.1 L720.5,444.6 L721.5,446.0 L720.7,448.1 L722.3,449.3 L722.0,451.2 L723.5,452.5 L724.0,454.1 L723.6,455.9 L724.9,457.3 L724.2,459.2 L725.5,460.6 L726.5,462.0 L727.0,463.7 L727.1,465.4 L727.2,467.1 L727.2,468.8 L729.1,470.0 L729.2,471.7 L730.0,473.2 L729.2,475.1 L730.8,476.5 L731.2,478.1 L731.3,479.7 L730.9,481.4 L730.2,483.1 L730.4,484.7 L730.8,486.3 L730.5,488.0 L730.8,489.6 L732.1,491.0 L732.5,492.6 L731.4,494.4 L731.9,495.9 L732.5,497.5" fill="none" stroke="#575757" stroke-width="0.9" stroke-linejoin="round"/><polyline points="732.5,497.5 785,493.75" fill="none" stroke="#575757" stroke-width="0.9" stroke-linejoin="round" /><polyline points="685,500 732.5,497.5" fill="none" stroke="#575757" stroke-width="0.9" stroke-linejoin="round" /><polyline points="685,500 687.5,510" fill="none" stroke="#575757" stroke-width="0.9" stroke-linejoin="round" /><path d="M753.1,409.5 L753.3,411.4 L754.8,412.4 L755.8,413.6 L756.9,414.8 L758.2,415.9 L759.4,416.9 L760.1,418.5 L761.0,419.8 L761.2,421.8 L763.4,422.1 L763.3,424.3 L765.4,424.6 L766.3,426.0 L766.9,427.7 L768.0,428.8 L769.6,429.5 L771.3,430.1 L771.9,431.8 L773.1,432.8 L773.6,434.6 L775.6,434.8 L776.5,436.2 L777.0,438.0 L779.2,438.0 L779.9,439.7 L780.5,441.3 L781.7,442.4 L783.8,442.6 L784.9,443.7 L786.0,444.9 L786.1,447.1 L788.0,447.4 L788.5,449.2 L789.5,450.5 L791.5,451.0 L792.8,452.2 L793.2,454.3 L794.9,455.1 L796.6,455.9 L797.2,457.8 L799.0,458.5 L800.0,460.0" fill="none" stroke="#575757" stroke-width="0.9" stroke-linejoin="round"/><polyline points="785,252.5 852.5,241 880,250" fill="none" stroke="#575757" stroke-width="0.9" stroke-linejoin="round" /><polyline points="852.5,241 858,255 862.5,290" fill="none" stroke="#575757" stroke-width="0.9" stroke-linejoin="round" /><polyline points="868.75,170 871,190 880,217.5 882.5,245 885,257.5" fill="none" stroke="#575757" stroke-width="0.9" stroke-linejoin="round" /><polyline points="895,165 888.75,210" fill="none" stroke="#575757" stroke-width="0.9" stroke-linejoin="round" /><polyline points="900,160 917.5,195" fill="none" stroke="#575757" stroke-width="0.9" stroke-linejoin="round" /><polyline points="880,217.5 912.5,212.5" fill="none" stroke="#575757" stroke-width="0.9" stroke-linejoin="round" /><polyline points="882.5,227.5 910,225" fill="none" stroke="#575757" stroke-width="0.9" stroke-linejoin="round" /><polyline points="858,288 866,320 873,318" fill="none" stroke="#575757" stroke-width="0.9" stroke-linejoin="round" />
<path d="M270.1,256.8 L276,258.5 L276.8,261.8 L280.2,263.4 L281.9,262.6 L285.3,264.2 L284.4,269.2 L287,275 L283.6,277.6 L277.7,280 L272.6,274.4 L271.8,269.4 L269.3,266.8 L271,262.6 Z" fill="none" stroke="#575757" stroke-width="0.9"/><ellipse cx="819.5" cy="567.5" rx="4.3" ry="4.6" fill="none" stroke="#575757" stroke-width="0.9"/>
</g>
<polygon points="136.8,81.4 135,85 135,91.4 135.7,102 136.4,111.3 134.3,125 130,140 125,156 113.5,180 104.5,194.5 103.6,210.8 100.9,228.9 93.6,239.8 91.8,243.4 93.6,259.7 93.6,274.2 95.4,280 99.5,292.4 104.7,309 105.7,321.5 110,330 106.8,334 112,346.4 118.2,363 119.2,377.5 122.3,381.7 134.8,385.8 141,392 151.4,400.3 157.6,408.6 163.8,417 167,429.4 166,433 207.5,437.5 208,443 240,463 265.6,478.4 288,481.6 318.4,485.6 319.2,477.6 347.2,479.2 352,482.4 361.6,493.6 376,511.2 379.2,525.6 392,540 402.5,542.5 415,530 435,530 440,534.4 449.6,547.2 456,561.6 467.2,576 468.8,584 472,596.8 478.4,603.2 491.2,608 508.8,612.8 512,609.6 510.4,596.8 507.2,587.2 510.4,576 516.8,568 529.6,558.4 542.4,550.4 552,544 561.6,536 577.6,532.8 592,534.4 604.8,532.8 612.8,535.2 620.8,540.8 628.8,544 640,540.8 646.4,537.6 656,542.4 659.2,537.6 654.4,531.2 649.6,524.8 651.2,520 659.2,516.8 672,515.2 680,513.6 696,510.4 705,510 720,510 730,522.5 740,517.5 750,513.75 765,520 770,525.7 776.5,530.8 780.4,542.5 780.4,552.8 783,560.6 788,570 792.8,572.7 797,579.8 805.6,591.2 818.4,599.8 822.7,604 831.2,604 835.5,597 837,588.4 836,578 834.7,570 829,558 825.7,551.6 819.2,538.6 814,530.8 807.5,519.2 799.8,506.2 794.6,495.9 793.3,483 797.2,470 800,460 812.5,450 822.5,440 827.5,430 835,420 845,417.5 847.5,410 851,400 858.8,393.4 869.7,387 880.6,379.4 879,370 871,357.6 865,348.3 858,342 854,330 851,318 847,305 849.5,300 855.7,311 858.8,323.5 862,336 865,342 868,329.7 872.8,318.8 872.8,308 869.7,308 866,302 862,296 866,297 872.8,303.3 880.6,289.3 882,280 880,268 887.5,260 910,245 900,242.5 910,235 922.5,230 936,230 935,222.5 925,225 915,215 912.5,202.5 920,190 930,175 945,165 960,150 947.5,140 935,109 927.5,106 913.75,107.5 907.5,125 905,140 900,157.5 887.5,166 847.5,177.5 832.5,195 827.5,210 815,220 800,226 792.5,230 797.5,237.5 785,247.5 770,256 757.5,263 745,270 735,272 732.5,265 735,258 742.5,240 738,228 732.5,220 720,225 722.5,210 722.5,197.5 715,188 707.5,182.5 698,194 688,206 682,222 684,240 686,254 680,272 670,276 664,266 658,244 660,236 657,222 654,214 660,200 666,190 676,188 688,186 696,184 708,180 712,180 706,172 692,168 674,174 660,170 652.5,156 645,159 645,165 635,166 620,169 610,171 592.5,175 605,160 620,146 600,146 585,140 570,136 554,134 552.5,121 547.5,121 547.5,128.75 500,128.75 415,123.75 340,113.75 256,100 166.3,77.1 167,84 169,90 168,98 165,106 160,113 152,114 154,108 160,100 158.5,94.2 156.4,92.1 145.7,88.2" fill="none" stroke="#555" stroke-width="1.5" stroke-linejoin="round"/>
<path d="M613.4,534.4 L616.1,534.8 L616.2,538.9 L617.7,540.9 L620.6,541.3 L622.1,543.4 L625.6,540.5 L627.2,542.1 L628.8,543.9 L631.6,545.3 L633.8,544.6 L635.4,541.6 L637.5,540.4 L639.9,540.5 L642.1,539.7 L645.1,540.4 L647.0,536.4 L647.7,539.8 L649.8,540.5 L651.5,541.8 L653.5,542.5 L656.4,542.7 L657.0,539.6 L658.6,538.1 L657.5,536.4 L657.8,533.7 L654.1,533.9 L653.3,532.0 L654.1,528.9 L651.1,528.7 L649.3,527.5 L647.7,524.2 L650.6,522.5 L650.9,519.3 L654.0,521.2 L655.8,520.0 L658.0,519.6 L659.1,515.8 L661.1,514.7 L663.2,514.5 L665.6,516.0 L667.8,516.6 L669.8,515.2 L671.8,514.1 L673.9,514.4 L676.1,514.9 L678.2,514.8 L680.2,514.7 L682.3,514.7 L684.1,513.5 L685.7,510.8 L688.3,513.5 L689.8,510.7 L692.1,511.5 L693.9,510.3 L696.0,510.4" stroke="#555" fill="none" stroke-linejoin="round" stroke-width="2.2"/><path d="M913.3,203.0 L912.5,200.1 L913.8,198.4 L914.8,196.6 L915.6,194.6 L919.2,194.4 L919.2,191.9 L919.4,189.6 L920.8,188.1 L923.9,187.8 L923.4,185.0 L923.6,182.7 L926.6,182.4 L927.2,180.3 L929.4,179.4 L927.6,175.8 L929.9,174.9 L932.4,175.0 L934.1,173.9 L935.9,173.0 L935.6,169.0 L937.9,168.8 L939.2,167.1 L941.0,166.2 L944.4,167.7 L945.2,165.2 L947.7,164.7 L947.6,161.6 L950.5,161.5 L950.9,158.9 L951.8,156.8 L954.8,156.8 L956.8,155.8 L955.9,151.9 L958.8,151.8 L960.0,150.0" stroke="#555" fill="none" stroke-linejoin="round" stroke-width="2.2"/><path d="M822.9,440.2 L822.5,437.5 L824.0,435.8 L824.2,433.4 L825.4,431.5 L826.7,429.4 L829.1,428.6 L830.5,427.0 L830.3,424.3 L830.9,422.2 L833.2,421.3 L835.2,420.7 L836.7,418.3 L838.8,418.3 L840.7,417.3 L843.3,419.1 L845.2,417.6 L844.2,414.4 L845.2,412.0 L847.1,409.8 L848.7,408.3 L850.1,406.7 L849.3,403.8 L850.6,402.2 L853.5,401.5 L853.6,399.1 L854.6,396.8 L856.4,395.8 L859.5,396.9 L860.0,393.6 L862.3,393.4 L863.6,391.7 L865.5,390.8 L868.4,391.2 L870.4,390.3 L870.5,387.1 L871.8,385.3 L874.7,385.7 L875.1,382.8 L877.5,382.5" stroke="#555" fill="none" stroke-linejoin="round" stroke-width="2.2"/><path d="M857,398 l5,-2 -4,-4 6,-1 -3,-4 7,0 -2,-5 6,0 M848,410 l6,-3 -5,-3 6,-2 -3,-3 5,-1" stroke="#555" fill="none" stroke-linejoin="round" stroke-width="1.8"/><path d="M792.8,496.1 L795.8,493.6 L793.9,491.6 L795.1,489.3 L793.4,487.3 L794.9,485.0 L793.2,483.0 L792.8,480.5 L792.9,478.2 L795.4,476.6 L796.4,474.5 L798.0,472.6 L795.8,469.6 L798.2,468.1 L797.9,465.9 L798.9,464.0 L798.2,461.7 L799.5,459.4 L801.6,458.8 L804.1,458.7 L803.8,455.2 L806.2,455.0 L808.5,454.6 L810.4,453.8 L810.3,450.4 L811.5,449.0 L815.1,449.7 L816.6,448.4 L816.7,445.7 L817.1,443.1 L820.7,443.9 L820.8,441.1 L822.5,440.0" stroke="#555" fill="none" stroke-linejoin="round" stroke-width="2.0"/><path d="M793.5,496.4 L795.3,498.1 L795.8,500.5 L798.6,501.6 L798.0,504.5 L800.5,505.8 L801.1,507.9 L801.1,510.4 L802.3,512.3 L805.0,513.1 L806.0,515.1 L806.7,517.2 L807.5,519.2" stroke="#555" fill="none" stroke-linejoin="round" stroke-width="2.0"/><path d="M510.4,576.0 L511.4,574.2 L512.2,572.2 L513.7,570.8 L516.0,570.0 L517.4,568.8 L517.7,565.8 L520.1,565.7 L522.0,564.9 L522.5,562.2 L525.3,562.7 L525.8,560.0 L528.2,559.8 L529.7,558.5 L531.6,557.5 L533.0,555.7 L535.0,554.8 L537.0,554.0 L538.6,552.5 L540.8,551.9 L542.3,550.3 L544.2,549.0 L545.6,546.8 L548.3,546.8 L550.1,545.3 L551.6,543.5 L554.0,543.2 L555.7,541.9 L556.7,539.9 L557.9,538.0 L560.0,537.3 L561.6,536.0" stroke="#555" fill="none" stroke-linejoin="round" stroke-width="2.2"/><path d="M512.5,610 L511.5,597 L508.6,587.5 L511.5,577" stroke="#555" stroke-width="2.6" fill="none"/><path d="M512.3,608 L511.2,597 L508.9,588" stroke="#fff" stroke-width="0.7" fill="none"/><path d="M99.5,296.6 l6,1 4,2 6,1 8,2 M107.8,298.7 l2,6 2,6" stroke="#555" stroke-width="1.6" fill="none"/><path d="M118,389 l6,1 6,2 5,2 M128.6,408.6 l2,2 M146.2,409.7 l4,3 M143,417 l3,6" stroke="#555" stroke-width="1.8" fill="none" stroke-linecap="round"/><path d="M157.8,80.7 L163,80 L167.8,80.7 L169.2,86.4 L167.8,91.4 L169.9,98.5 L164.9,102 L164.2,110 L158.5,114.2 L152,115.6 L151.4,111.3 L156.4,107 L152,107.8 L157.8,100 L162.8,92.8 L158.5,87.8 Z" fill="#5a5a5a" stroke="#555" stroke-width="1"/><path d="M160,106 l3,-2 1,3 -3,2z M163,96 l2,-1 0,3z M162,86 l2,0 -1,2z" fill="#a8b8d8"/><path d="M137.2,111.4 L136.8,113.7 L135.8,115.9 L136.2,118.3 L135.1,120.5 L134.6,122.7 L135.2,125.3 L133.4,127.1 L133.9,129.5 L132.0,131.3 L131.3,133.4 L131.2,135.7 L131.5,138.1 L130.0,140.0 L129.6,142.1 L127.9,143.7 L128.8,146.2 L126.8,147.8 L125.9,149.7 L125.8,151.9 L125.0,153.8 L125.6,156.3 L123.2,157.4 L123.2,159.7 L121.5,161.1 L120.7,163.0 L121.2,165.5 L119.2,166.8 L118.0,168.6 L118.7,171.1 L117.3,172.7 L115.7,174.2 L115.9,176.6 L113.7,177.8 L113.9,180.2 L111.8,181.5 L111.9,184.0 L110.1,185.4 L108.3,186.8 L108.4,189.4 L107.2,191.1 L105.6,192.7 L104.9,194.5 L105.3,196.6 L104.9,198.6 L104.8,200.6 L103.2,202.6 L103.6,204.7 L103.0,206.7 L104.4,208.8 L103.0,210.7 L104.1,212.9 L102.9,214.8 L102.4,216.8 L102.7,218.9 L101.4,220.7 L101.7,222.9 L101.3,224.9 L100.4,226.8 L101.6,229.3 L98.9,230.2 L98.3,232.4 L97.4,234.5 L95.5,235.8 L95.2,238.2 L92.7,239.4 L92.6,241.5 L92.1,243.4 L91.5,245.5 L92.4,247.5 L93.1,249.4 L92.2,251.6 L93.8,253.5 L92.5,255.7 L93.9,257.6 L93.3,259.7 L92.6,261.8 L93.4,263.8 L93.3,265.9 L94.0,268.0 L94.6,270.1 L94.5,272.1 L94.3,274.0 L94.0,276.2 L94.9,278.0 L95.4,280.0" stroke="#555" fill="none" stroke-linejoin="round" stroke-width="1.7"/><path d="M849.5,300.0 L847.1,300.9 L849.3,304.1 L848.1,304.6 L846.9,307.1 L850.2,308.1 L850.8,309.9 L849.9,312.2 L851.5,313.8 L851.0,316.0 L852.2,317.7 L851.1,320.1 L851.6,322.1 L853.8,323.7 L852.5,326.1 L853.6,328.0 L855.5,329.5 L852.7,332.3 L856.2,333.1 L857.2,334.7 L858.0,336.3 L856.3,338.8 L855.9,340.8 L857.2,342.9 L859.7,342.9 L861.5,343.7 L863.6,344.2 L863.2,347.5 L865.0,348.3" stroke="#555" fill="none" stroke-linejoin="round" stroke-width="2.4"/><path d="M849,304 l-6,3 -4,-2 M851,314 l-8,2 -5,-2 M853,322 l-10,3 -4,-1 M855,331 l-10,5 M857,339 l-8,4 -6,-1 M861,346 l-6,6 M855.7,311 l4,-4 3,-6 M858.8,323 l5,-5 M862,334 l4,-4" stroke="#555" fill="none" stroke-linejoin="round" stroke-width="2"/><path d="M862,368.5 L879,370 L879,379.4 L868,387 L865,376 Z" fill="#fff" stroke="#555" stroke-width="2"/><path d="M862,368 l-8,-2 -4,3 M860,378 l-10,-1 M865,384 l-9,3 -5,0 M858,392 l-6,2" stroke="#555" fill="none" stroke-linejoin="round" stroke-width="2"/><path d="M883,262 L905,246 L911,243.5 L909,247 L888,262 Z" fill="#a8c4e3" stroke="#555" stroke-width="1.5"/><path d="M780.2,542.5 L780.8,544.6 L780.0,546.6 L780.6,548.7 L779.1,550.7 L779.7,553.0 L781.8,554.5 L780.6,557.1 L783.6,558.2 L782.9,560.6 L784.2,562.3 L785.7,564.0 L787.2,565.6 L786.3,568.5 L788.7,568.7 L790.3,571.5 L791.7,573.4 L794.8,573.9 L795.7,575.8 L795.7,578.2 L797.0,579.8 L797.9,581.7 L798.7,583.6 L801.5,584.1 L802.4,586.0 L803.6,587.6 L805.5,588.8 L805.6,591.2" stroke="#555" fill="none" stroke-linejoin="round" stroke-width="1.8"/>
<polyline points="620,146 630,145 645,125 665,127.5 672.5,130 692.5,142.5 700,162.5 706,170 715,178" fill="none" stroke="#575757" stroke-width="0.9" stroke-linejoin="round" /><polyline points="715,178 745,175 765,180 775,195 760,205 745,190 747,210 745,235 740,250 735,260" fill="none" stroke="#575757" stroke-width="0.9" stroke-linejoin="round" /><polyline points="745,270 760,260 782.5,242.5 795,232.5" fill="none" stroke="#575757" stroke-width="0.9" stroke-linejoin="round" /><polyline points="782.5,225 800,212.5 825,200 832.5,195" fill="none" stroke="#575757" stroke-width="0.9" stroke-linejoin="round" />


<clipPath id="ak"><polygon points="232.5,530 247.5,522.5 262.5,517.5 275,523.75 290,525 305,528.75 320,530 337.5,535 358.5,640 363,662.5 375,659.5 383,668 393,662 400,661 412,668 425,678 440,690 452,700 461,707 461,716 450,722 440,720 428,710 414,698 400,688 388,680 375,672 365,667 351,667 342,668 335,666.4 325,668 319,672 307,674.4 300,681 297.4,684.8 289.4,688 292.6,681.6 289.4,676 293.4,666.4 299.8,657.6 295,658.4 288.6,664 281.4,673.6 273.4,684 272.6,688 271,696 270,703 259.5,712 252,719 240,727 228,733 212,740 200,745 186,748 184,743 198,737 212,732 224,728 240,720 248,710 252,690 236,694 218,690 216,672 202,672 196,664 194,646 200,638 208,628 220,622 228,620 230,606 218,608 200,606 200,596 192,588 208,580 218,580 232,586 227.5,575 220,560 207.5,552.5 210,546 230,535"/></clipPath>
<g clip-path="url(#ak)">
<rect x="0" y="500" width="480" height="272" fill="#a8c4e3"/>
<path d="M215,583 C217.5,583.3 224.7,583.1 230,585 C235.3,586.9 241.7,591.8 247,594.5 C252.3,597.2 257.3,598.5 262,601 C266.7,603.5 269.2,606.3 275.2,609.6 C281.1,612.9 290.2,618.8 297.7,620.9 C305.2,623.0 310.4,621.8 320,622.5 C329.6,623.2 349.2,624.6 355,625 L370,626 L360,500 L180,500 L180,583Z" fill="#c5cce8"/>
<path d="M230,534 C232.5,537.8 240.6,552.4 245,557 C249.4,561.6 249.8,560.5 256.4,561.7 C263.0,563.0 276.5,562.8 284.6,564.5 C292.8,566.2 299.0,569.2 305.3,572 C311.6,574.8 315.2,578.4 322.2,581.4 C329.2,584.4 343.3,588.6 347.5,590 L360,590 L350,500 L220,500Z" fill="#9d9d9d"/>
<path d="M230,534 C232.5,537.8 240.6,552.4 245,557 C249.4,561.6 249.8,560.5 256.4,561.7 C263.0,563.0 276.5,562.8 284.6,564.5 C292.8,566.2 299.0,569.2 305.3,572 C311.6,574.8 315.2,578.4 322.2,581.4 C329.2,584.4 343.3,588.6 347.5,590" stroke="#6b6b6b" stroke-width="1.4" fill="none"/>
<path d="M215,583 C217.5,583.3 224.7,583.1 230,585 C235.3,586.9 241.7,591.8 247,594.5 C252.3,597.2 257.3,598.5 262,601 C266.7,603.5 269.2,606.3 275.2,609.6 C281.1,612.9 290.2,618.8 297.7,620.9 C305.2,623.0 310.4,621.8 320,622.5 C329.6,623.2 349.2,624.6 355,625" stroke="#6b6b6b" stroke-width="1.4" fill="none"/>
<ellipse cx="285.2" cy="667.5" rx="11.5" ry="18" transform="rotate(32 285.2 667.5)" fill="#c5cce8" stroke="#7a7a7a" stroke-width="1"/>
</g>
<polygon points="232.5,530 247.5,522.5 262.5,517.5 275,523.75 290,525 305,528.75 320,530 337.5,535 358.5,640 363,662.5 375,659.5 383,668 393,662 400,661 412,668 425,678 440,690 452,700 461,707 461,716 450,722 440,720 428,710 414,698 400,688 388,680 375,672 365,667 351,667 342,668 335,666.4 325,668 319,672 307,674.4 300,681 297.4,684.8 289.4,688 292.6,681.6 289.4,676 293.4,666.4 299.8,657.6 295,658.4 288.6,664 281.4,673.6 273.4,684 272.6,688 271,696 270,703 259.5,712 252,719 240,727 228,733 212,740 200,745 186,748 184,743 198,737 212,732 224,728 240,720 248,710 252,690 236,694 218,690 216,672 202,672 196,664 194,646 200,638 208,628 220,622 228,620 230,606 218,608 200,606 200,596 192,588 208,580 218,580 232,586 227.5,575 220,560 207.5,552.5 210,546 230,535" fill="none" stroke="#555" stroke-width="1.5" stroke-linejoin="round"/>
<path d="M378,668 l6,5 5,-3 6,6 8,1 6,8 9,6 7,4 6,6 M392,678 l8,8 10,8 8,6 8,6 6,8 M401,664 l9,9 7,8 10,6 9,6 8,5 M414,690 l7,8 8,6 6,8 M430,693 l6,8 8,6 6,8 M446,704 l5,5 4,8 M420,702 l6,9 M437,714 l8,4" stroke="#555" stroke-width="2.4" fill="none" stroke-linejoin="round"/>
<path d="M252,718 l-3,3 -5,2 -4,4 -6,2 -4,4 -8,3 -8,4 -8,3 M240,728 l4,-2" stroke="#555" stroke-width="2.2" fill="none"/>
<path d="M300,681 l4,-3 3,-5 4,-2 2,-4 4,-3 M311,662 l3,5 3,-3 2,5 4,-6 3,4 4,-3 2,4 4,-2 3,3 M314,671 l3,-6 4,2 M326,668 l2,-6" stroke="#555" stroke-width="2.4" fill="none" stroke-linejoin="round"/>
<path d="M299.8,657.6 l4,-3 M300,658 l5,2" stroke="#555" stroke-width="1.2" fill="none"/>
<polygon points="164,610 170,610 176,616 182,620 179,623 168,617" fill="#a8c4e3" stroke="#555" stroke-width="1"/>
<polygon points="180,664 188,662 193,666 190,671 183,669" fill="#a8c4e3" stroke="#555" stroke-width="1"/>
<path d="M184,745 l-4,2 -6,2 -6,3 -7,3 -6,3 -3,1" stroke="#555" stroke-width="2.4" fill="none" stroke-dasharray="4,1.5"/>
<path d="M152,759 L140,761 L125,762 L110,762.5 L95,760 L82.5,757.5 L65,752.5 L50,746 L40,740 L32.5,735 L20,722 L5,707.5" fill="none" stroke="#555" stroke-width="2" stroke-dasharray="5,3,2,4,3,6"/>
<polygon points="268.5,709 288,697 286.5,710.5 270,724" fill="#a8c4e3" stroke="#555" stroke-width="2.4" stroke-linejoin="round"/>

<text x="387.7" y="125" font-size="22.2" text-anchor="middle" font-weight="bold" stroke="#fff" stroke-width="5" stroke-linejoin="round" fill="#fff">Near</text><text x="387.7" y="125" font-size="22.2" text-anchor="middle" font-weight="bold" stroke="#000" stroke-width="1.0" stroke-linejoin="round" fill="#000">Near</text><text x="387.6" y="151.3" font-size="22.2" text-anchor="middle" font-weight="bold" stroke="#fff" stroke-width="5" stroke-linejoin="round" fill="#fff">Normal</text><text x="387.6" y="151.3" font-size="22.2" text-anchor="middle" font-weight="bold" stroke="#000" stroke-width="1.0" stroke-linejoin="round" fill="#000">Normal</text><text x="212.3" y="355.2" font-size="22" text-anchor="middle" font-weight="bold" stroke="#fff" stroke-width="5" stroke-linejoin="round" fill="#fff">Below</text><text x="212.3" y="355.2" font-size="22" text-anchor="middle" font-weight="bold" stroke="#000" stroke-width="1.0" stroke-linejoin="round" fill="#000">Below</text><text x="515.5" y="516.3" font-size="21.9" text-anchor="middle" font-weight="bold" stroke="#fff" stroke-width="5" stroke-linejoin="round" fill="#fff">Above</text><text x="515.5" y="516.3" font-size="21.9" text-anchor="middle" font-weight="bold" stroke="#000" stroke-width="1.0" stroke-linejoin="round" fill="#000">Above</text><text x="788.5" y="299.6" font-size="22.2" text-anchor="middle" font-weight="bold" stroke="#fff" stroke-width="5" stroke-linejoin="round" fill="#fff">Near</text><text x="788.5" y="299.6" font-size="22.2" text-anchor="middle" font-weight="bold" stroke="#000" stroke-width="1.0" stroke-linejoin="round" fill="#000">Near</text><text x="788.3" y="325.3" font-size="22.2" text-anchor="middle" font-weight="bold" stroke="#fff" stroke-width="5" stroke-linejoin="round" fill="#fff">Normal</text><text x="788.3" y="325.3" font-size="22.2" text-anchor="middle" font-weight="bold" stroke="#000" stroke-width="1.0" stroke-linejoin="round" fill="#000">Normal</text><text x="896.2" y="242" font-size="21.8" text-anchor="middle" font-weight="bold" stroke="#fff" stroke-width="5" stroke-linejoin="round" fill="#fff">Below</text><text x="896.2" y="242" font-size="21.8" text-anchor="middle" font-weight="bold" stroke="#000" stroke-width="1.0" stroke-linejoin="round" fill="#000">Below</text><text x="295.4" y="546.3" font-size="17" text-anchor="middle" font-weight="bold" stroke="#fff" stroke-width="4" stroke-linejoin="round" fill="#fff">Near</text><text x="295.4" y="546.3" font-size="17" text-anchor="middle" font-weight="bold" stroke="#000" stroke-width="0.8" stroke-linejoin="round" fill="#000">Near</text><text x="295.4" y="566.4" font-size="17" text-anchor="middle" font-weight="bold" stroke="#fff" stroke-width="4" stroke-linejoin="round" fill="#fff">Normal</text><text x="295.4" y="566.4" font-size="17" text-anchor="middle" font-weight="bold" stroke="#000" stroke-width="0.8" stroke-linejoin="round" fill="#000">Normal</text><text x="236.7" y="659.4" font-size="17" text-anchor="middle" font-weight="bold" stroke="#fff" stroke-width="4" stroke-linejoin="round" fill="#fff">Below</text><text x="236.7" y="659.4" font-size="17" text-anchor="middle" font-weight="bold" stroke="#000" stroke-width="0.8" stroke-linejoin="round" fill="#000">Below</text>
<text x="666" y="594" font-size="16.7" font-weight="bold" text-anchor="middle">Probability (Percent Chance)</text><text x="588" y="615" font-size="12.5" font-weight="bold" text-anchor="middle">Above Normal</text><text x="746" y="613.5" font-size="12.35" font-weight="bold" text-anchor="middle">Below Normal</text><rect x="546" y="629.0" width="28" height="12.5" fill="#eeb46c" stroke="#777" stroke-width="1"/><text x="581.4" y="639.8" font-size="11.8">33-40%</text><rect x="759.5" y="629.0" width="28" height="12.5" fill="#c5cce8" stroke="#777" stroke-width="1"/><text x="752" y="639.8" font-size="11.8" text-anchor="end">33-40%</text><rect x="546" y="649.1" width="28" height="12.5" fill="#ec8f46" stroke="#777" stroke-width="1"/><text x="581.4" y="659.9" font-size="11.8">40-50%</text><rect x="759.5" y="649.1" width="28" height="12.5" fill="#a8c4e3" stroke="#777" stroke-width="1"/><text x="752" y="659.9" font-size="11.8" text-anchor="end">40-50%</text><rect x="546" y="669.3" width="28" height="12.5" fill="#e05a2f" stroke="#777" stroke-width="1"/><text x="581.4" y="680.1" font-size="11.8">50-60%</text><rect x="759.5" y="669.3" width="28" height="12.5" fill="#7db7e6" stroke="#777" stroke-width="1"/><text x="752" y="680.1" font-size="11.8" text-anchor="end">50-60%</text><rect x="546" y="689.5" width="28" height="12.5" fill="#d03129" stroke="#777" stroke-width="1"/><text x="581.4" y="700.2" font-size="11.8">60-70%</text><rect x="759.5" y="689.5" width="28" height="12.5" fill="#3d9cdc" stroke="#777" stroke-width="1"/><text x="752" y="700.2" font-size="11.8" text-anchor="end">60-70%</text><rect x="546" y="709.6" width="28" height="12.5" fill="#d33248" stroke="#777" stroke-width="1"/><text x="581.4" y="720.4" font-size="11.8">70-80%</text><rect x="759.5" y="709.6" width="28" height="12.5" fill="#1462a8" stroke="#777" stroke-width="1"/><text x="752" y="720.4" font-size="11.8" text-anchor="end">70-80%</text><rect x="546" y="729.8" width="28" height="12.5" fill="#9e3337" stroke="#777" stroke-width="1"/><text x="581.4" y="740.5" font-size="11.8">80-90%</text><rect x="759.5" y="729.8" width="28" height="12.5" fill="#1c2a6c" stroke="#777" stroke-width="1"/><text x="752" y="740.5" font-size="11.8" text-anchor="end">80-90%</text><rect x="546" y="749.9" width="28" height="12.5" fill="#66202a" stroke="#777" stroke-width="1"/><text x="581.4" y="760.7" font-size="11.8">90-100%</text><rect x="759.5" y="749.9" width="28" height="12.5" fill="#211a5c" stroke="#777" stroke-width="1"/><text x="752" y="760.7" font-size="11.8" text-anchor="end">90-100%</text><text x="491" y="640" font-size="14.7" text-anchor="middle">Leaning</text><text x="491" y="657.5" font-size="14.7" text-anchor="middle">Above</text><text x="491" y="712" font-size="14.7" text-anchor="middle">Likely</text><text x="491" y="728.5" font-size="14.7" text-anchor="middle">Above</text><text x="845" y="640" font-size="14.7" text-anchor="middle">Leaning</text><text x="845" y="657.5" font-size="14.7" text-anchor="middle">Below</text><text x="845" y="712" font-size="14.7" text-anchor="middle">Likely</text><text x="845" y="728.5" font-size="14.7" text-anchor="middle">Below</text><text x="666" y="672" font-size="12.2" font-weight="bold" text-anchor="middle">Near</text><text x="666" y="686" font-size="12.2" font-weight="bold" text-anchor="middle">Normal</text><rect x="652" y="699" width="29" height="13" fill="#9d9d9d" stroke="#777" stroke-width="1"/><path d="M541,627.5 C529.45,627.5 531.55,633.5 531.55,636.375 S529.45,645.25 520,645.25 C529.45,645.25 531.55,648.8 531.55,654.125 S529.45,663 541,663" fill="none" stroke="#222" stroke-width="0.9"/><path d="M541,669.5 C529.45,669.5 531.55,675.5 531.55,693.0 S529.45,716.5 520,716.5 C529.45,716.5 531.55,725.9 531.55,740.0 S529.45,763.5 541,763.5" fill="none" stroke="#222" stroke-width="0.9"/><path d="M794,627.5 C805.55,627.5 803.45,633.5 803.45,636.375 S805.55,645.25 815,645.25 C805.55,645.25 803.45,648.8 803.45,654.125 S805.55,663 794,663" fill="none" stroke="#222" stroke-width="0.9"/><path d="M794,669.5 C805.55,669.5 803.45,675.5 803.45,693.0 S805.55,716.5 815,716.5 C805.55,716.5 803.45,725.9 803.45,740.0 S805.55,763.5 794,763.5" fill="none" stroke="#222" stroke-width="0.9"/><path d="M831,605.5 Q829,610 825.5,612.6 Q815,617.5 802.7,620.5 Q795,622 787,622.6" fill="none" stroke="#555" stroke-width="1.6" stroke-dasharray="3,2,5,3"/>
<text x="500.4" y="43.9" font-size="45.6" text-anchor="middle">8-14 Day Temperature Outlook</text><text x="353" y="79.7" font-size="19.6" font-weight="bold" stroke="#000" stroke-width="0.45">Valid:</text><text x="418" y="79.7" font-size="20">June 19 - 25, 2023</text><text x="353" y="101.8" font-size="19.7" font-weight="bold" stroke="#000" stroke-width="0.45">Issued:</text><text x="435" y="101.8" font-size="20">June 11, 2023</text><g>
<defs>
<path id="sealtop" d="M72.2,31.2 A23.5,23.5 0 0 1 119.2,31.2"/>
<path id="sealbot" d="M69.8,33 A26,26 0 0 0 121.6,33"/>
</defs>
<circle cx="95.7" cy="30.9" r="28.1" fill="#3c9ee0" stroke="#1f5f9e" stroke-width="0.9"/>
<circle cx="95.7" cy="30.9" r="21.5" fill="#fff" stroke="#1f5f9e" stroke-width="0.9"/>
<text font-size="4.6" font-weight="bold" fill="#fff" letter-spacing="0.15"><textPath href="#sealtop" startOffset="50%" text-anchor="middle">DEPARTMENT OF COMMERCE</textPath></text>
<text font-size="4.6" font-weight="bold" fill="#fff" letter-spacing="0.15"><textPath href="#sealbot" startOffset="50%" text-anchor="middle">UNITED STATES OF AMERICA</textPath></text>
<path d="M83.3,27.3 L108.2,27.3 L108.2,43 Q108,49.5 95.7,51.6 Q83.4,49.5 83.3,43 Z" fill="#e6a826" stroke="#2b2b2b" stroke-width="0.9"/>
<path d="M83.8,27.8 L107.7,27.8 L107.7,37.8 L83.8,37.8 Z" fill="#3a9ee0"/>
<path d="M87,35 L104,35 L102,33 L99,32.5 L98,30 L95,31 L92,30.5 L90,33 Z" fill="#e8e8e8" stroke="#444" stroke-width="0.5"/>
<line x1="83.8" y1="37.8" x2="107.7" y2="37.8" stroke="#222" stroke-width="0.8"/>
<line x1="95.7" y1="38" x2="95.7" y2="50" stroke="#1a1a1a" stroke-width="1.3"/>
<path d="M88.2,13.2 Q89.5,20 92.8,23 L93.2,25 L98.2,25 L98.6,23 Q101.9,20 103.2,13.2 Q100,16.5 97.6,19.5 L95.7,17.8 L93.8,19.5 Q91.4,16.5 88.2,13.2 Z" fill="#5b3d22"/>
<circle cx="95.7" cy="19.4" r="1.3" fill="#f0f0f0"/><path d="M95,21 L96.4,21 L95.7,24 Z" fill="#c98a1a"/>
<rect x="91" y="24.8" width="9.4" height="1.5" fill="#333"/>
</g><g>
<path d="M876.8,24.1 C885,30 893,38.5 904.5,38.8 C914,38.5 922,30 931.6,19.6 A28.5,28.5 0 1 1 876.8,24.1 Z" fill="#1a8bd3"/>
<path d="M880.8,15.3 A28.5,28.5 0 0 1 927.8,14.8 C921,22 914,35 904.5,37 C895,35 887,22 880.8,15.3 Z" fill="#0f2f8a"/>
<path d="M895,43.2 C902,40 911,37.2 918.5,37.3 C912,39.4 903,42.6 895,43.2 Z" fill="#fff"/>
<text x="904.5" y="21.7" font-size="9.2" font-weight="bold" fill="#fff" text-anchor="middle" textLength="23" lengthAdjust="spacingAndGlyphs">NOAA</text>
</g>
</svg>
</body></html>
